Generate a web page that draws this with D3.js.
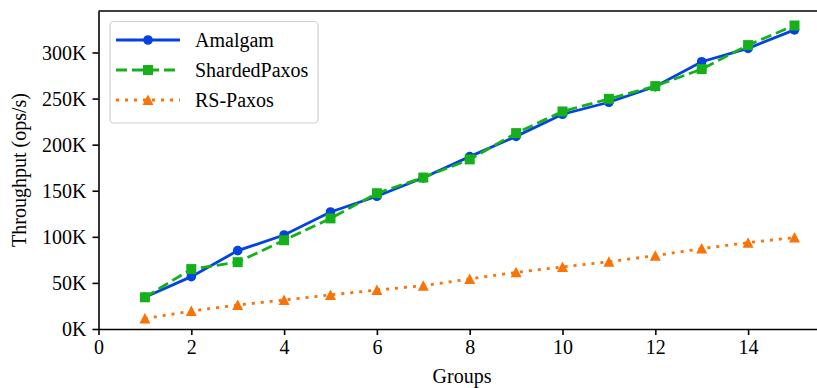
<!DOCTYPE html>
<meta charset="utf-8">
<script src="https://d3js.org/d3.v7.min.js"></script>
<style>
    body { margin: 0; background: #fff; }
    text { font-family: "Liberation Serif", "Times New Roman", serif; fill: #000; }
</style>
<div id="my_dataviz"></div>
<script>

    // data
    var groups = [1, 2, 3, 4, 5, 6, 7, 8, 9, 10, 11, 12, 13, 14, 15];
    var amalgam = [34400, 56800, 85000, 102000, 127000, 144000, 164000, 187000, 209000, 233000, 246000, 263000, 290000, 304500, 324500];
    var shardedPaxos = [34400, 65000, 72500, 96300, 120000, 147300, 164300, 184000, 212500, 236000, 249700, 263500, 282000, 308000, 329300];
    var rsPaxos = [11300, 19500, 26000, 31500, 37000, 42300, 47000, 54300, 61500, 67300, 73000, 79600, 87200, 93700, 99200];
    var xTicks = [0, 2, 4, 6, 8, 10, 12, 14];
    var yTicks = [0, 50000, 100000, 150000, 200000, 250000, 300000];

    var seriesNames = ["Amalgam", "ShardedPaxos", "RS-Paxos"];
    var seriesValues = [amalgam, shardedPaxos, rsPaxos];

    var W = 817, H = 388;
    var plotLeft = 98.5, plotTop = 11, plotBottom = 329;

    var svg = d3.select("#my_dataviz")
        .append("svg")
        .attr("width", W)
        .attr("height", H);

    var x = d3.scaleLinear()
        .domain([0, 15.7])
        .range([plotLeft, plotLeft + 15.7 * 46.4]);

    var y = d3.scaleLinear()
        .domain([0, 345000])
        .range([plotBottom, plotTop]);

    var styles = [
        { color: "#0343df", dash: null, marker: "circle" },
        { color: "#15b01a", dash: "11,5", marker: "square" },
        { color: "#f97306", dash: "3,6", marker: "triangle" }
    ];

    function drawMarker(g, kind, cx, cy, color) {
        if (kind == "circle") {
            g.append("circle").attr("cx", cx).attr("cy", cy).attr("r", 4.8).attr("fill", color);
        } else if (kind == "square") {
            g.append("rect").attr("x", cx - 5).attr("y", cy - 5).attr("width", 10).attr("height", 10).attr("fill", color);
        } else {
            g.append("path")
                .attr("d", "M" + cx + "," + (cy - 5.5) + "L" + (cx + 5.5) + "," + (cy + 5) + "L" + (cx - 5.5) + "," + (cy + 5) + "Z")
                .attr("fill", color);
        }
    }

    // lines + markers
    var line = d3.line()
        .x(function (d, i) { return x(groups[i]); })
        .y(function (d) { return y(d); });

    seriesValues.forEach(function (vals, k) {
        var st = styles[k];
        var g = svg.append("g");
        g.append("path")
            .datum(vals)
            .attr("d", line)
            .attr("fill", "none")
            .attr("stroke", st.color)
            .attr("stroke-width", 2.8)
            .attr("stroke-dasharray", st.dash);
        vals.forEach(function (v, i) {
            drawMarker(g, st.marker, x(groups[i]), y(v), st.color);
        });
    });

    // axes
    var xAxis = svg.append("g")
        .attr("transform", "translate(0," + plotBottom + ")")
        .call(d3.axisBottom(x).tickValues(xTicks).tickSize(6).tickPadding(5).tickSizeOuter(0));
    var yAxis = svg.append("g")
        .attr("transform", "translate(" + plotLeft + ",0)")
        .call(d3.axisLeft(y).tickValues(yTicks).tickSize(6).tickPadding(6).tickSizeOuter(0)
            .tickFormat(function (d) { return (d / 1000) + "K"; }));

    [xAxis, yAxis].forEach(function (a) {
        a.select(".domain").attr("stroke", "#000").attr("stroke-width", 1.6);
        a.selectAll(".tick line").attr("stroke", "#000").attr("stroke-width", 1.6);
        a.selectAll(".tick text").attr("font-size", "20px").attr("font-family", "Liberation Serif").attr("fill", "#000");
    });
    xAxis.selectAll(".tick text").attr("dy", "0.71em");
    yAxis.selectAll(".tick text").attr("dy", "0.34em");

    // top spine and right spine
    svg.append("line")
        .attr("x1", plotLeft).attr("x2", x.range()[1])
        .attr("y1", plotTop).attr("y2", plotTop)
        .attr("stroke", "#000").attr("stroke-width", 1.6);
    svg.append("line")
        .attr("x1", x.range()[1]).attr("x2", x.range()[1])
        .attr("y1", plotTop).attr("y2", plotBottom)
        .attr("stroke", "#000").attr("stroke-width", 1.6);

    // axis labels
    svg.append("text")
        .attr("text-anchor", "middle")
        .attr("x", 462)
        .attr("y", 383)
        .attr("font-size", "20px")
        .text("Groups");

    svg.append("text")
        .attr("text-anchor", "middle")
        .attr("transform", "translate(26," + ((plotTop + plotBottom) / 2) + ") rotate(-90)")
        .attr("font-size", "20px")
        .text("Throughput (ops/s)");

    // legend
    var legend = svg.append("g");
    legend.append("rect")
        .attr("x", 110).attr("y", 21.5)
        .attr("width", 208).attr("height", 101.5)
        .attr("rx", 4)
        .attr("fill", "#fff").attr("fill-opacity", 0.8)
        .attr("stroke", "#d0d0d0").attr("stroke-width", 1.2);

    seriesNames.forEach(function (name, k) {
        var st = styles[k];
        var cy = 40 + k * 30;
        legend.append("line")
            .attr("x1", 116).attr("x2", 180)
            .attr("y1", cy).attr("y2", cy)
            .attr("stroke", st.color)
            .attr("stroke-width", 2.8)
            .attr("stroke-dasharray", st.dash);
        drawMarker(legend, st.marker, 148, cy, st.color);
        legend.append("text")
            .attr("x", 195)
            .attr("y", cy + 7)
            .attr("font-size", "20px")
            .text(name);
    });

</script>
